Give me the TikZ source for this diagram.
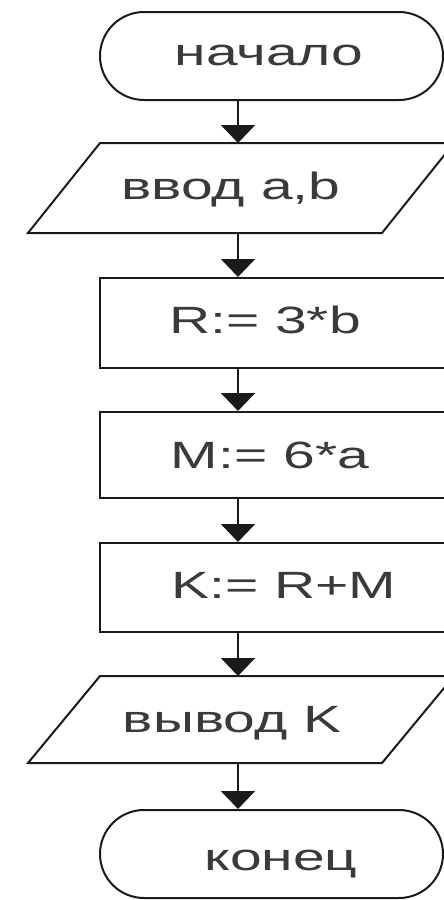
\documentclass[tikz,border=0pt]{standalone}
\usepackage{fontspec}
\newfontfamily\wide[FakeStretch=1.5]{Liberation Sans}
\usetikzlibrary{arrows.meta}
\definecolor{ink}{HTML}{1A1A1A}
\definecolor{txt}{HTML}{3A3A3A}
\begin{document}
\begin{tikzpicture}[x=1pt,y=-1pt,
  shapebox/.style={draw=ink,line width=2pt,inner sep=0pt,fill=white},
  termbox/.style={shapebox,rectangle,rounded corners=44pt,minimum width=343pt,minimum height=88pt},
  procbox/.style={shapebox,rectangle,minimum width=380pt},
  ioline/.style={draw=ink,line width=2pt,fill=white,line join=miter},
  lbl/.style={anchor=base,inner sep=0pt,text=txt,font=\wide\fontsize{38}{40}\selectfont},
  flow/.style={draw=ink,line width=2pt,-{Triangle[width=34pt,length=18pt]}}]
\useasboundingbox (0,0) rectangle (444,900);
\clip (0,0) rectangle (444,900);
\fill[white] (0,0) rectangle (444,900);
\coordinate (axis) at (238,0);
% terminals and process boxes
\node[termbox] (start) at (271.5,56) {};
\node[procbox,minimum height=90pt] (r) at (290,323) {};
\node[procbox,minimum height=86pt] (m) at (290,455) {};
\node[procbox,minimum height=89pt] (k) at (290,587.5) {};
\node[termbox] (stop) at (271.5,854) {};
% input / output parallelograms
\coordinate (inTL) at (100,143); \coordinate (inTR) at (454,143);
\coordinate (inBR) at (382,233); \coordinate (inBL) at (28,233);
\path[ioline] (inTL) -- (inTR) -- (inBR) -- (inBL) -- cycle;
\coordinate (inN) at (238,143); \coordinate (inS) at (238,233);
\coordinate (outTL) at (100,676); \coordinate (outTR) at (454,676);
\coordinate (outBR) at (382,763); \coordinate (outBL) at (28,763);
\path[ioline] (outTL) -- (outTR) -- (outBR) -- (outBL) -- cycle;
\coordinate (outN) at (238,676); \coordinate (outS) at (238,763);
% labels
\node[lbl] (tstart) at (269,65) {начало};
\node[lbl] (tin) at (231,199) {ввод a,b};
\node[lbl] (tr) at (265,333) {R:= 3*b};
\node[lbl] (tm) at (270,468) {M:= 6*a};
\node[lbl] (tk) at (284,598) {K:= R+M};
\node[lbl] (tout) at (232,732) {вывод K};
\node[lbl] (tstop) at (281,870) {конец};
% connectors
\draw[flow] (start.south -| axis) -- (inN);
\draw[flow] (inS) -- (r.north -| axis);
\draw[flow] (r.south -| axis) -- (m.north -| axis);
\draw[flow] (m.south -| axis) -- (k.north -| axis);
\draw[flow] (k.south -| axis) -- (outN);
\draw[flow] (outS) -- (stop.north -| axis);
\end{tikzpicture}
\end{document}
